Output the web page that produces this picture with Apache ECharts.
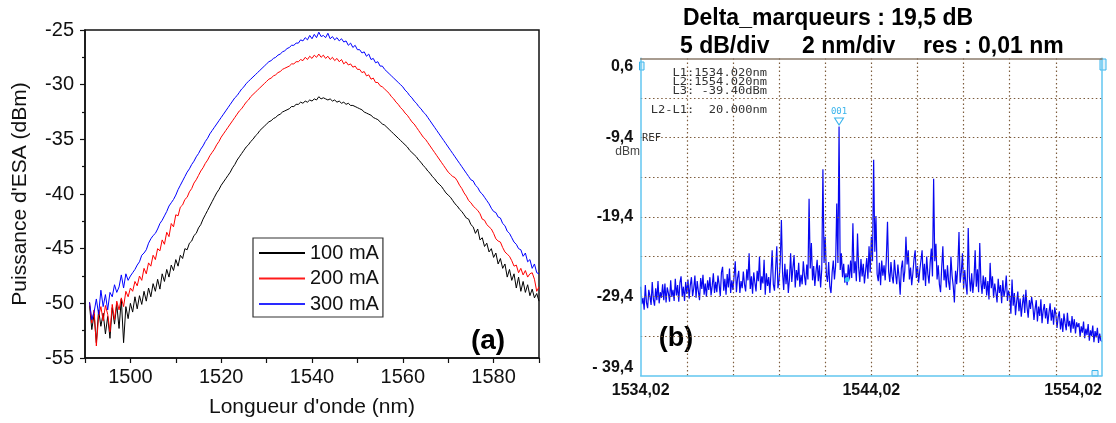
<!DOCTYPE html>
<html><head><meta charset="utf-8">
<script src="https://cdn.jsdelivr.net/npm/echarts@6/dist/echarts.min.js"></script>
<style>html,body{margin:0;padding:0;background:#fff}#c{width:1116px;height:423px}</style>
</head><body><div id="c"></div>
<script>
// ---------- Panel (a) data ----------
const seriesNames = ['100 mA', '200 mA', '300 mA'];
const wlStartA = 1491, wlStepA = 0.5;   // wavelength grid (nm) of the (a) traces
const xTicksA = [1500, 1520, 1540, 1560, 1580];
// 100 mA (dBm), 1491 .. 1590 nm, 0.5 nm step (one line = 5 nm)
const p100 = [
-50.2,-52.4,-51.0,-53.6,-50.6,-52.1,-50.9,-52.8,-51.2,-53.2,
-50.4,-51.9,-50.1,-52.3,-49.6,-53.6,-50.3,-51.4,-50.0,-50.8,
-49.4,-50.5,-49.3,-50.1,-48.9,-49.8,-48.6,-49.4,-48.2,-48.9,
-47.8,-48.7,-47.3,-48.0,-46.9,-47.6,-46.5,-47.0,-46.0,-46.6,
-45.6,-45.9,-45.0,-45.1,-44.5,-44.3,-43.8,-43.6,-43.1,-42.8,
-42.3,-41.9,-41.5,-41.1,-40.7,-40.3,-39.9,-39.6,-39.2,-38.9,
-38.6,-38.3,-38.0,-37.6,-37.3,-36.9,-36.6,-36.3,-36.0,-35.7,
-35.5,-35.2,-35.0,-34.7,-34.5,-34.2,-34.0,-33.8,-33.6,-33.4,
-33.3,-33.1,-33.0,-32.8,-32.7,-32.5,-32.4,-32.3,-32.2,-32.0,
-32.0,-31.8,-31.8,-31.6,-31.7,-31.5,-31.6,-31.4,-31.5,-31.3,
-31.4,-31.1,-31.3,-31.2,-31.3,-31.4,-31.3,-31.5,-31.4,-31.6,
-31.5,-31.7,-31.6,-31.8,-31.7,-31.9,-31.9,-32.0,-32.1,-32.2,
-32.3,-32.5,-32.6,-32.7,-32.8,-33.0,-33.1,-33.2,-33.4,-33.6,
-33.7,-33.9,-34.1,-34.3,-34.5,-34.7,-34.9,-35.1,-35.3,-35.5,
-35.7,-36.0,-36.2,-36.4,-36.6,-36.9,-37.1,-37.4,-37.6,-37.9,
-38.1,-38.4,-38.6,-38.9,-39.1,-39.3,-39.6,-39.9,-40.1,-40.3,
-40.6,-40.9,-41.1,-41.4,-41.6,-41.9,-42.2,-42.3,-42.8,-43.0,
-43.6,-43.2,-44.2,-44.0,-44.8,-44.5,-45.3,-45.0,-45.8,-45.4,
-46.4,-45.9,-46.8,-46.4,-47.6,-46.9,-47.9,-47.3,-48.6,-47.6,
-48.9,-48.0,-49.0,-48.3,-49.3,-48.7,-49.5,-49.1,-49.8
];
// 200 mA
const p200 = [
-49.9,-51.8,-50.6,-53.9,-51.2,-50.3,-51.6,-50.2,-51.0,-52.6,
-50.1,-51.5,-49.8,-50.6,-49.5,-50.3,-48.9,-49.4,-48.6,-48.9,
-48.0,-48.4,-47.5,-47.9,-46.8,-47.3,-46.3,-46.6,-45.6,-46.0,
-45.0,-45.2,-44.2,-44.6,-43.5,-43.9,-42.7,-43.0,-41.9,-42.0,
-41.2,-41.0,-40.5,-40.3,-39.8,-39.5,-39.0,-38.7,-38.3,-37.9,
-37.6,-37.2,-36.9,-36.5,-36.2,-35.9,-35.5,-35.2,-34.8,-34.5,
-34.2,-33.9,-33.6,-33.3,-33.0,-32.7,-32.4,-32.2,-31.9,-31.6,
-31.4,-31.1,-30.9,-30.7,-30.5,-30.3,-30.1,-29.9,-29.7,-29.5,
-29.4,-29.2,-29.1,-28.9,-28.8,-28.6,-28.5,-28.4,-28.3,-28.1,
-28.1,-27.9,-27.9,-27.7,-27.8,-27.5,-27.7,-27.4,-27.6,-27.3,
-27.5,-27.2,-27.5,-27.3,-27.6,-27.4,-27.7,-27.5,-27.8,-27.6,
-27.9,-27.7,-28.1,-27.9,-28.2,-28.1,-28.4,-28.3,-28.6,-28.6,
-28.9,-28.8,-29.2,-29.1,-29.5,-29.4,-29.8,-29.8,-30.1,-30.2,
-30.4,-30.6,-30.8,-31.1,-31.3,-31.6,-31.8,-32.1,-32.3,-32.6,
-32.8,-33.1,-33.4,-33.6,-33.9,-34.2,-34.5,-34.8,-35.0,-35.3,
-35.6,-35.9,-36.2,-36.5,-36.8,-37.1,-37.4,-37.7,-38.0,-38.2,
-38.4,-38.5,-38.8,-39.2,-39.5,-39.9,-40.2,-40.6,-40.8,-41.1,
-41.3,-41.5,-41.8,-42.3,-42.4,-42.8,-43.0,-43.2,-43.6,-44.1,
-44.3,-44.4,-44.9,-45.3,-45.5,-45.7,-46.1,-46.6,-46.5,-47.2,
-46.8,-47.4,-47.0,-47.6,-47.3,-47.2,-47.8,-48.9,-48.5
];
// 300 mA
const p300 = [
-49.9,-51.5,-50.8,-49.6,-51.0,-48.8,-50.3,-49.2,-50.6,-49.0,
-49.4,-48.3,-49.0,-48.5,-47.4,-48.6,-47.3,-47.9,-47.5,-47.2,
-46.9,-46.5,-46.2,-45.6,-45.4,-45.1,-44.5,-44.1,-43.8,-43.6,
-43.2,-42.7,-42.4,-42.0,-41.6,-41.1,-40.8,-40.5,-40.1,-39.6,
-39.2,-38.8,-38.4,-38.0,-37.7,-37.3,-37.0,-36.6,-36.3,-35.9,
-35.6,-35.2,-34.9,-34.5,-34.2,-33.9,-33.6,-33.3,-33.0,-32.7,
-32.4,-32.1,-31.8,-31.5,-31.2,-31.0,-30.7,-30.4,-30.2,-29.9,
-29.7,-29.5,-29.3,-29.1,-28.9,-28.7,-28.5,-28.3,-28.1,-27.9,
-27.8,-27.6,-27.5,-27.3,-27.2,-27.0,-26.9,-26.7,-26.6,-26.4,
-26.4,-26.2,-26.2,-25.9,-26.0,-25.7,-25.9,-25.5,-25.8,-25.4,
-25.7,-25.2,-25.6,-25.5,-25.7,-25.3,-25.8,-25.6,-25.9,-25.7,
-26.0,-25.8,-26.1,-26.0,-26.4,-26.2,-26.6,-26.4,-26.8,-26.8,
-27.1,-27.0,-27.4,-27.2,-27.7,-27.6,-28.0,-27.9,-28.3,-28.3,
-28.6,-28.8,-29.0,-29.2,-29.4,-29.6,-29.8,-30.0,-30.2,-30.5,
-30.7,-31.0,-31.2,-31.5,-31.7,-32.0,-32.2,-32.5,-32.7,-33.0,
-33.3,-33.6,-33.9,-34.2,-34.5,-34.8,-35.1,-35.4,-35.7,-36.0,
-36.3,-36.6,-36.9,-37.2,-37.5,-37.8,-38.1,-38.4,-38.7,-38.8,
-39.2,-39.4,-39.8,-40.0,-40.3,-40.6,-40.9,-41.3,-41.6,-41.7,
-42.1,-42.2,-42.7,-42.9,-43.4,-43.6,-44.0,-44.4,-44.6,-45.0,
-45.1,-45.7,-45.4,-46.2,-46.0,-46.8,-46.4,-47.2,-47.3
];

// ---------- Panel (b) data ----------
const wlStartB = 1534.02, wlStepB = 0.05;  // OSA span 1534.02 .. 1554.02 nm
const xLabelsB = ['1534,02', '1544,02', '1554,02'];
const yLabelsB = ['- 39,4', '-29,4', '-19,4', '-9,4', '0,6'];
const cursorB = [1542.97, -27.3];
// spectrum (dBm), one line = 1 nm (20 samples)
const spectrumB = [
-28.2,-30.4,-29.6,-31.1,-28.0,-30.2,-30.9,-28.6,-29.4,-30.5,-27.6,-29.8,-30.6,-28.4,-29.9,-27.5,-30.3,-28.9,-29.6,-27.9,
-29.9,-27.8,-30.2,-28.3,-29.0,-30.1,-27.4,-29.5,-28.6,-30.0,-27.2,-29.3,-28.0,-30.1,-27.7,-26.9,-29.4,-28.2,-30.0,-27.6,
-29.1,-27.3,-29.7,-28.0,-27.0,-29.4,-28.4,-26.8,-29.6,-27.5,-28.8,-29.9,-27.1,-28.5,-26.7,-29.2,-27.8,-29.5,-27.4,-28.6,
-27.0,-29.3,-28.1,-26.5,-29.0,-27.6,-28.9,-26.8,-27.9,-29.4,-26.4,-25.7,-28.7,-27.2,-29.2,-26.6,-28.3,-25.9,-29.0,-27.4,
-28.6,-26.8,-25.0,-28.9,-27.1,-26.2,-29.0,-27.5,-28.4,-26.3,-27.9,-28.8,-26.0,-27.4,-24.0,-28.5,-26.9,-29.1,-26.4,-27.7,
-28.8,-26.2,-27.5,-24.4,-28.6,-26.9,-27.8,-24.8,-29.2,-26.5,-28.1,-27.0,-29.0,-26.4,-23.6,-27.9,-28.7,-25.9,-23.1,-28.4,
-27.3,-25.1,-19.8,-26.4,-28.6,-25.3,-27.9,-26.0,-29.0,-27.2,-24.0,-27.6,-25.8,-24.2,-28.3,-26.1,-27.4,-25.2,-28.2,-26.7,
-27.9,-25.0,-26.8,-28.0,-25.4,-27.3,-17.1,-25.9,-22.7,-27.4,-25.6,-28.1,-26.3,-24.8,-27.5,-25.5,-28.3,-26.0,-13.4,-25.2,
-21.9,-26.7,-27.6,-25.1,-28.2,-29.0,-26.4,-24.9,-27.3,-25.6,-17.7,-25.2,-8.0,-26.1,-24.0,-27.0,-25.3,-27.7,-26.5,-28.0,
-25.4,-27.3,-24.9,-27.1,-20.2,-26.5,-25.0,-27.5,-21.5,-25.8,-27.6,-24.7,-26.9,-25.3,-27.8,-26.2,-24.6,-27.2,-23.1,-26.4,
-21.9,-25.0,-12.2,-23.8,-19.3,-26.6,-27.5,-25.2,-28.0,-24.9,-26.8,-25.5,-27.4,-24.6,-20.0,-26.3,-27.6,-25.1,-26.9,-27.8,
-24.8,-26.6,-27.9,-25.4,-27.0,-29.2,-25.9,-24.9,-27.6,-26.2,-21.9,-25.4,-23.6,-27.3,-25.8,-28.0,-26.5,-24.7,-23.6,-27.1,
-25.6,-27.7,-26.1,-24.9,-23.6,-27.4,-25.3,-28.1,-24.4,-26.6,-27.8,-25.2,-23.4,-26.9,-14.6,-25.0,-22.8,-27.3,-25.5,-27.9,
-28.9,-25.8,-23.1,-27.4,-26.0,-28.3,-25.5,-27.6,-28.6,-24.4,-26.8,-28.1,-30.2,-26.2,-27.9,-25.6,-21.3,-27.7,-26.4,-24.0,
-28.4,-26.1,-27.9,-29.2,-20.8,-27.0,-28.8,-26.5,-29.0,-27.3,-23.6,-28.2,-26.0,-28.9,-22.7,-27.6,-29.1,-26.8,-28.5,-27.0,
-29.3,-27.5,-29.8,-25.2,-28.4,-26.9,-29.6,-27.8,-28.9,-30.2,-27.2,-29.0,-28.0,-30.3,-27.4,-29.5,-28.6,-26.8,-30.0,-28.7,
-29.4,-31.6,-27.3,-30.6,-29.0,-31.8,-30.1,-28.8,-31.3,-29.7,-32.0,-30.4,-29.2,-31.5,-28.6,-30.8,-32.1,-29.9,-31.0,-29.5,
-30.6,-32.4,-31.0,-29.9,-32.6,-30.7,-31.9,-29.8,-32.8,-31.2,-30.4,-32.2,-30.9,-32.9,-31.5,-30.3,-32.5,-31.1,-33.0,-30.8,
-31.7,-33.4,-32.0,-31.3,-33.6,-32.2,-33.9,-31.6,-32.8,-33.7,-31.5,-33.2,-32.5,-34.0,-31.9,-33.5,-32.3,-34.1,-32.7,-33.3,
-32.8,-34.5,-33.2,-34.0,-32.6,-34.7,-33.5,-34.3,-32.9,-35.0,-33.7,-34.4,-33.1,-35.2,-33.8,-34.6,-33.4,-35.3,-34.1,-35.0,
-35.1
];

// ---------- build ----------
const FONT = '"Liberation Sans", Arial, sans-serif';
const MONO = '"DejaVu Sans Mono", "Liberation Mono", monospace';
const pairsA = vals => vals.map((v, i) => [+(wlStartA + i * wlStepA).toFixed(2), v]);
const pairsB = spectrumB.map((v, i) => [+(wlStartB + i * wlStepB).toFixed(3), v]);
let peakIdx = 0;
spectrumB.forEach((v, i) => { if (v > spectrumB[peakIdx]) peakIdx = i; });

const blueB = '#62c6f0';
const gridDot = { color: '#7d5c3c', type: [1.5, 2.6], width: 1.2 };
const monoText = (x, y, t) => ({ type: 'text', x: x, y: y, scaleX: 1.15, scaleY: 1,
  style: { text: t, font: '10.5px ' + MONO, fill: '#333', align: 'right', verticalAlign: 'middle' } });

const chart = echarts.init(document.getElementById('c'), null, { renderer: 'canvas' });
chart.setOption({
  animation: false,
  backgroundColor: '#fff',
  grid: [
    { left: 85, top: 30, width: 454, height: 332.7, show: true, borderColor: '#111', borderWidth: 1.5, backgroundColor: 'transparent' },
    { left: 640.7, top: 58.3, width: 461.3, height: 317.2, show: false }
  ],
  legend: {
    data: seriesNames, orient: 'vertical', left: 253, top: 238,
    padding: [5, 4, 3, 6], itemWidth: 46, itemHeight: 2, itemGap: 5.5, icon: 'rect',
    borderColor: '#333', borderWidth: 1.2, backgroundColor: '#fff',
    textStyle: { fontSize: 20, fontFamily: FONT, color: '#111', lineHeight: 20 }
  },
  xAxis: [
    {
      gridIndex: 0, type: 'value', min: 1490, max: 1590, interval: 10,
      axisLine: { show: true, onZero: false, lineStyle: { color: '#111', width: 1.5 } },
      axisTick: { show: true, inside: false, length: 5, lineStyle: { color: '#111', width: 1.2 } },
      axisLabel: { margin: 9, fontSize: 20, color: '#111', fontFamily: FONT,
        formatter: v => xTicksA.indexOf(Math.round(v)) >= 0 ? String(Math.round(v)) : '' },
      splitLine: { show: false },
      name: "Longueur d'onde (nm)", nameLocation: 'middle', nameGap: 39,
      nameTextStyle: { fontSize: 21, color: '#111', fontFamily: FONT }
    },
    {
      gridIndex: 1, type: 'value', position: 'bottom', min: 1534.02, max: 1554.02, interval: 2, z: 5,
      axisLine: { show: true, onZero: false, lineStyle: { color: blueB, width: 1.5 } },
      axisTick: { show: false },
      axisLabel: { margin: 7, fontSize: 16, fontWeight: 'bold', color: '#111', fontFamily: FONT,
        alignMinLabel: 'center', alignMaxLabel: 'right',
        formatter: v => { const k = Math.round((v - wlStartB) / 2); return k === 0 ? xLabelsB[0] : k === 5 ? xLabelsB[1] : k === 10 ? xLabelsB[2] : ''; } },
      splitLine: { show: true, showMinLine: false, showMaxLine: false, lineStyle: gridDot }
    },
    {
      gridIndex: 1, type: 'value', position: 'top', min: 1534.02, max: 1554.02, interval: 2, z: 5,
      axisLine: { show: true, onZero: false, lineStyle: { color: '#8c7c6c', width: 1.5 } },
      axisTick: { show: false }, axisLabel: { show: false }, splitLine: { show: false }
    }
  ],
  yAxis: [
    {
      gridIndex: 0, type: 'value', min: -55, max: -25, interval: 5,
      axisLine: { show: true, onZero: false, lineStyle: { color: '#111', width: 1.5 } },
      axisTick: { show: true, inside: false, length: 5, lineStyle: { color: '#111', width: 1.2 } },
      minorTick: { show: true, splitNumber: 2, length: 3, lineStyle: { color: '#111', width: 1.2 } },
      axisLabel: { margin: 11, fontSize: 20, color: '#111', fontFamily: FONT, formatter: v => String(Math.round(v)) },
      splitLine: { show: false },
      name: "Puissance d'ESA (dBm)", nameLocation: 'middle', nameGap: 54, nameRotate: 90,
      nameTextStyle: { fontSize: 21, color: '#111', fontFamily: FONT }
    },
    {
      gridIndex: 1, type: 'value', position: 'left', min: -39.4, max: 0.6, interval: 5, z: 5,
      axisLine: { show: true, onZero: false, lineStyle: { color: blueB, width: 1.5 } },
      axisTick: { show: false },
      axisLabel: { margin: 7.5, fontSize: 16, fontWeight: 'bold', color: '#111', fontFamily: FONT,
        verticalAlignMinLabel: 'bottom', verticalAlignMaxLabel: 'top',
        formatter: v => { const k = Math.round((v + 39.4) / 5); return k % 2 === 0 ? (yLabelsB[k / 2] || '') : ''; } },
      splitLine: { show: true, showMinLine: false, showMaxLine: false, lineStyle: gridDot }
    },
    {
      gridIndex: 1, type: 'value', position: 'right', min: -39.4, max: 0.6, interval: 5, z: 5,
      axisLine: { show: true, onZero: false, lineStyle: { color: blueB, width: 1.5 } },
      axisTick: { show: false }, axisLabel: { show: false }, splitLine: { show: false }
    }
  ],
  series: [
    { name: seriesNames[0], type: 'line', xAxisIndex: 0, yAxisIndex: 0, data: pairsA(p100), symbol: 'none', showSymbol: false, color: '#000', lineStyle: { width: 1, color: '#000' } },
    { name: seriesNames[1], type: 'line', xAxisIndex: 0, yAxisIndex: 0, data: pairsA(p200), symbol: 'none', showSymbol: false, color: '#ff1a1a', lineStyle: { width: 1, color: '#ff0000' } },
    { name: seriesNames[2], type: 'line', xAxisIndex: 0, yAxisIndex: 0, data: pairsA(p300), symbol: 'none', showSymbol: false, color: '#2a2aff', lineStyle: { width: 1, color: '#0000ff' } },
    {
      name: 'OSA', type: 'line', xAxisIndex: 1, yAxisIndex: 1, data: pairsB, symbol: 'none', showSymbol: false,
      lineStyle: { width: 1.2, color: '#0808f0' },
      markPoint: {
        silent: true,
        data: [
          { coord: pairsB[peakIdx], symbol: 'triangle', symbolRotate: 180, symbolSize: [9, 7], symbolOffset: [0, -5],
            itemStyle: { color: '#fff', borderColor: '#3ab4ec', borderWidth: 1 },
            label: { show: true, position: 'top', distance: 1, formatter: '001', color: '#3ab4ec', fontSize: 9, fontFamily: MONO } },
          { coord: cursorB, symbol: 'circle', symbolSize: 5, itemStyle: { color: '#3cc8f0' }, label: { show: false } }
        ]
      }
    }
  ],
  graphic: [
    { type: 'text', x: 828, y: 19, style: { text: 'Delta_marqueurs : 19,5 dB', font: 'bold 23px ' + FONT, fill: '#000', align: 'center', verticalAlign: 'middle' } },
    { type: 'text', x: 680, y: 47, style: { text: '5 dB/div', font: 'bold 23px ' + FONT, fill: '#000', align: 'left', verticalAlign: 'middle' } },
    { type: 'text', x: 802, y: 47, style: { text: '2 nm/div', font: 'bold 23px ' + FONT, fill: '#000', align: 'left', verticalAlign: 'middle' } },
    { type: 'text', x: 923, y: 47, style: { text: 'res : 0,01 nm', font: 'bold 23px ' + FONT, fill: '#000', align: 'left', verticalAlign: 'middle' } },
    monoText(767, 73.5, 'L1:1534.020nm'),
    monoText(767, 82.3, 'L2:1554.020nm'),
    monoText(767, 91.1, 'L3: -39.40dBm'),
    monoText(767, 110, 'L2-L1:  20.000nm'),
    { type: 'text', x: 642, y: 138, style: { text: 'REF', font: '10.5px ' + MONO, fill: '#333', align: 'left', verticalAlign: 'middle' } },
    { type: 'text', x: 640, y: 152, style: { text: 'dBm', font: '12px ' + FONT, fill: '#444', align: 'right', verticalAlign: 'middle' } },
    { type: 'text', x: 488, y: 341, style: { text: '(a)', font: 'bold 28px ' + FONT, fill: '#000', align: 'center', verticalAlign: 'middle' } },
    { type: 'text', x: 676, y: 339, style: { text: '(b)', font: 'bold 27px ' + FONT, fill: '#000', align: 'center', verticalAlign: 'middle' } },
    { type: 'rect', shape: { x: 639.5, y: 62, width: 4.5, height: 8 }, style: { fill: 'rgba(120,200,240,0.25)', stroke: '#3ab4ec', lineWidth: 1 } },
    { type: 'rect', shape: { x: 1100, y: 59, width: 6, height: 11 }, style: { fill: 'rgba(120,200,240,0.25)', stroke: '#3ab4ec', lineWidth: 1 } },
    { type: 'rect', shape: { x: 1092, y: 370.5, width: 6, height: 5.5 }, style: { fill: 'rgba(120,200,240,0.25)', stroke: '#3ab4ec', lineWidth: 1 } }
  ]
});
</script>
</body></html>
